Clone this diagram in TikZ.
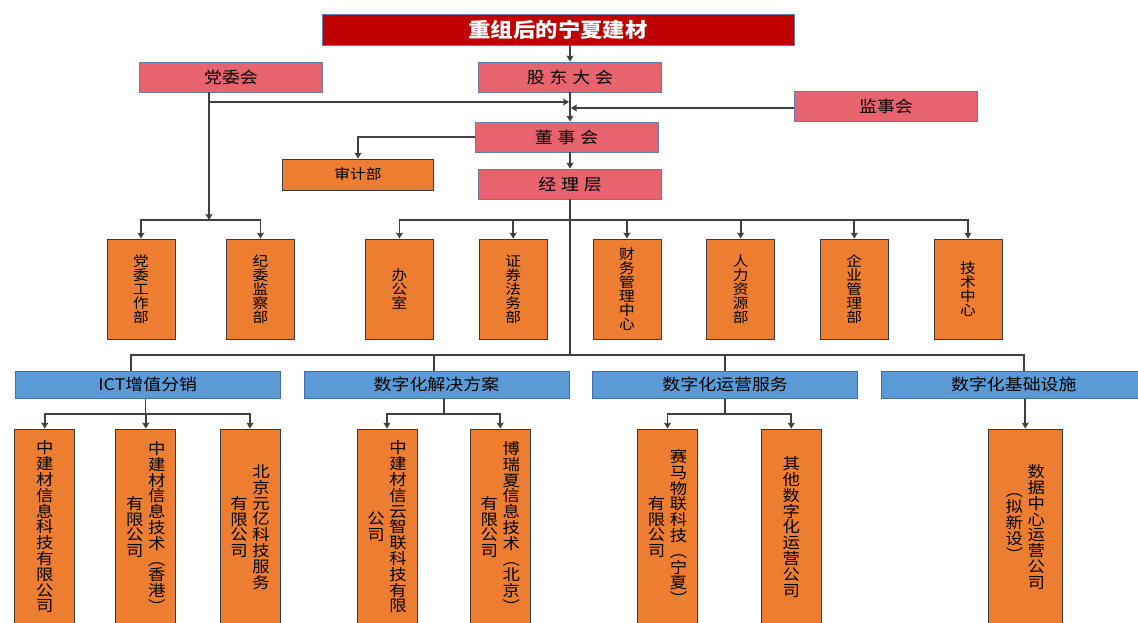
\documentclass[tikz,border=0pt]{standalone}
\usepackage{fontspec}
\usepackage{xcolor}
\usetikzlibrary{positioning,arrows.meta}
\newfontfamily\cjk[FakeStretch=1.12]{Noto Sans CJK SC}
\definecolor{titlered}{HTML}{C00000}
\definecolor{pinkfill}{HTML}{E7636D}
\definecolor{orangefill}{HTML}{ED7D31}
\definecolor{bluefill}{HTML}{5B9BD5}
\definecolor{edgeblue}{HTML}{5E7FB3}
\definecolor{edgesteel}{HTML}{41719C}
\definecolor{edgedark}{HTML}{3A3A3A}
\definecolor{linegray}{HTML}{404040}
\newcommand{\vcol}[1]{$\vcenter{\lineskiplimit=-100pt\def\\{\cr}\halign{\hfil##\hfil\cr#1\cr}}$}

\begin{document}
\begin{tikzpicture}[x=1pt,y=-1pt,>={Stealth[length=6pt,width=7pt,inset=1pt]},node distance=113.7pt,
    conn/.style={draw=linegray,line width=1.8pt},
    headbox/.style={fill=titlered,draw=edgeblue,line width=0.8pt,text=white,inner sep=0pt,minimum width=472pt,minimum height=31pt,font=\cjk\bfseries\fontsize{20}{20}\selectfont},
    pinkbox/.style={fill=pinkfill,draw=edgeblue,line width=0.8pt,inner sep=0pt,minimum width=183pt,minimum height=30pt,font=\cjk\fontsize{16}{16}\selectfont},
    auditbox/.style={fill=orangefill,draw=edgedark,line width=0.8pt,inner sep=0pt,minimum width=151pt,minimum height=31pt,font=\cjk\fontsize{14}{14}\selectfont},
    deptbox/.style={fill=orangefill,draw=edgedark,line width=0.8pt,inner sep=0pt,minimum width=68pt,minimum height=100pt,font=\cjk\fontsize{14}{14}\selectfont},
    bizbox/.style={fill=bluefill,draw=edgesteel,line width=0.8pt,inner sep=0pt,minimum width=265pt,minimum height=27.5pt,font=\cjk\fontsize{16}{16}\selectfont},
    firmbox/.style={fill=orangefill,draw=edgedark,line width=0.8pt,inner sep=0pt,minimum width=60pt,minimum height=196pt,font=\cjk\fontsize{15.5}{15.8}\selectfont}]
                \useasboundingbox (0,0) rectangle (1138,623);
                \fill[white] (0,0) rectangle (1138,623);
                \clip (0,0) rectangle (1138,623);

                \node[headbox] (title) at (558,29.5) {重组后的宁夏建材};
                \node[pinkbox] (dangwei) at (231,77) {党委会};
                \node[pinkbox] (gudong) at (570,77) {股\hspace{0.3em}东\hspace{0.3em}大\hspace{0.3em}会};
                \node[pinkbox] (jianshi) at (886,106.5) {监事会};
                \node[pinkbox] (dongshi) at (566.5,137) {董\hspace{0.3em}事\hspace{0.3em}会};
                \node[auditbox] (shenji) at (358,174.5) {审计部};
                \node[pinkbox] (jingli) at (570,184) {经\hspace{0.3em}理\hspace{0.3em}层};

                \node[deptbox] (dwgz) at (141,289) {\vcol{党\\委\\工\\作\\部}};
                \node[deptbox] (jwjc) at (260.5,289) {\vcol{纪\\委\\监\\察\\部}};
                \node[deptbox] (bgs) at (399.5,289) {\vcol{办\\公\\室}};
                \node[deptbox] (zqfw) [right of=bgs] {\vcol{证\\券\\法\\务\\部}};
                \node[deptbox] (cwgl) [right of=zqfw] {\vcol{财\\务\\管\\理\\中\\心}};
                \node[deptbox] (rlzy) [right of=cwgl] {\vcol{人\\力\\资\\源\\部}};
                \node[deptbox] (qygl) [right of=rlzy] {\vcol{企\\业\\管\\理\\部}};
                \node[deptbox] (jszx) [right of=qygl] {\vcol{技\\术\\中\\心}};

                \node[bizbox] (ict) at (147.75,384.75) {ICT增值分销};
                \node[bizbox] (jjfa) [node distance=288.7pt,right of=ict] {数字化解决方案};
                \node[bizbox] (yyfw) [node distance=288.7pt,right of=jjfa] {数字化运营服务};
                \node[bizbox] (jcss) [node distance=288.7pt,right of=yyfw] {数字化基础设施};

                \node[firmbox] (gs1) at (44.75,527) {\vcol{中\\建\\材\\信\\息\\科\\技\\有\\限\\公\\司}};
                \node[firmbox] (gs2) at (145.8,527) {\vcol{有\\限\\公\\司}\hspace{4.5pt}\vcol{中\\建\\材\\信\\息\\技\\术\\︵\\香\\港\\︶}};
                \node[firmbox] (gs3) at (250,527) {\vcol{有\\限\\公\\司}\hspace{4.5pt}\vcol{北\\京\\元\\亿\\科\\技\\服\\务}};
                \node[firmbox] (gs4) at (387,527) {\vcol{公\\司}\hspace{4.5pt}\vcol{中\\建\\材\\信\\云\\智\\联\\科\\技\\有\\限}};
                \node[firmbox] (gs5) at (500.25,527) {\vcol{有\\限\\公\\司}\hspace{4.5pt}\vcol{博\\瑞\\夏\\信\\息\\技\\术\\︵\\北\\京\\︶}};
                \node[firmbox] (gs6) at (667.5,527) {\vcol{有\\限\\公\\司}\hspace{4.5pt}\vcol{赛\\马\\物\\联\\科\\技\\︵\\宁\\夏\\︶}};
                \node[firmbox] (gs7) at (791.25,527) {\vcol{其\\他\\数\\字\\化\\运\\营\\公\\司}};
                \node[firmbox,minimum width=74.5pt] (gs8) at (1025.25,527) {\vcol{︵\\拟\\新\\设\\︶}\hspace{4.5pt}\vcol{数\\据\\中\\心\\运\\营\\公\\司}};

                \coordinate (dwx) at ([xshift=-22pt]dangwei.south);
                \coordinate (dwjoin) at (209,102);
                \coordinate (dwfork) at (209,220);
                \coordinate (jsout) at ([yshift=-1.5pt]jianshi.west);
                \coordinate (jlfork) at (570,220);
                \coordinate (bizfork) at (570,355);
                \coordinate (ictfork) at (145.5,414);
                \coordinate (jjfork) at (444,414);
                \coordinate (yyfork) at (725,414);

                \draw[conn,->] (gudong |- title.south) -- (gudong.north);
                \draw[conn,->] (gudong.south) -- (gudong.south |- dongshi.north);
                \draw[conn,->] (dwx) -- (dwfork);
                \draw[conn,->,shorten >=0.9pt] (dwjoin) -- (gudong.south |- dwjoin);
                \draw[conn,->,shorten >=0.9pt] (jsout) -- (gudong.south |- jsout);
                \draw[conn,->] (dongshi.west) -| (shenji.north);
                \draw[conn,->] (jingli.north |- dongshi.south) -- (jingli.north);

                \draw[conn,->] (dwfork) -| (dwgz.north);
                \draw[conn,->] (dwfork) -| (jwjc.north);
                \draw[conn,->] (jlfork) -| (bgs.north);
                \draw[conn,->] (jlfork) -| (zqfw.north);
                \draw[conn,->] (jlfork) -| (cwgl.north);
                \draw[conn,->] (jlfork) -| (rlzy.north);
                \draw[conn,->] (jlfork) -| (qygl.north);
                \draw[conn,->] (jlfork) -| (jszx.north);

                \draw[conn] (jingli.south) -- (bizfork);
                \draw[conn] (bizfork) -| ([xshift=-16.5pt]ict.north);
                \draw[conn] (bizfork) -| ([xshift=-2.8pt]jjfa.north);
                \draw[conn] (bizfork) -| (yyfw.north);
                \draw[conn] (bizfork) -| ([xshift=10pt]jcss.north);

                \draw[conn] (ictfork |- ict.south) -- (ictfork);
                \draw[conn,->] (ictfork) -| (gs1.north);
                \draw[conn,->] (ictfork) -| (gs2.north);
                \draw[conn,->] (ictfork) -| (gs3.north);
                \draw[conn] (jjfork |- jjfa.south) -- (jjfork);
                \draw[conn,->] (jjfork) -| (gs4.north);
                \draw[conn,->] (jjfork) -| (gs5.north);
                \draw[conn] (yyfork |- yyfw.south) -- (yyfork);
                \draw[conn,->] (yyfork) -| (gs6.north);
                \draw[conn,->] (yyfork) -| (gs7.north);
                \draw[conn,->] (gs8.north |- jcss.south) -- (gs8.north);
\end{tikzpicture}
\end{document}
